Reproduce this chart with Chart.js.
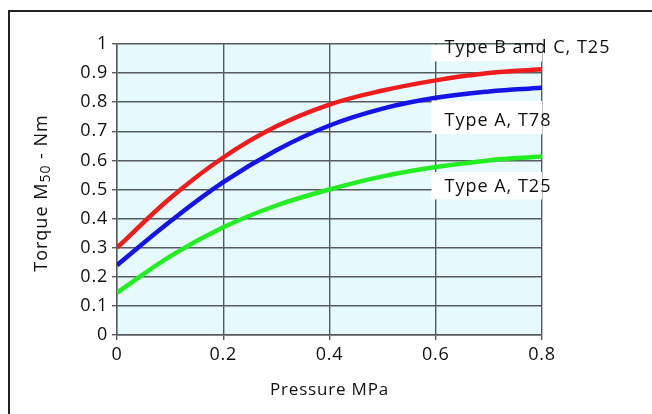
<!DOCTYPE html>
<html>
<head>
<meta charset="utf-8">
<script src="https://cdn.jsdelivr.net/npm/chart.js@4"></script>
<style>
  html, body { margin: 0; padding: 0; background: #fff; }
  #wrap { position: relative; width: 652px; height: 414px; overflow: hidden; }
  #frame { position: absolute; left: 8px; top: 10px; width: 700px; height: 500px;
           border-left: 2px solid #222; border-top: 2px solid #222; }
  canvas { position: absolute; left: 0; top: 0; }
</style>
</head>
<body>
<div id="wrap">
  <div id="frame"></div>
  <canvas id="torqueChart" width="652" height="414"></canvas>
</div>
<script>
const pressure = [0, 0.1, 0.2, 0.3, 0.4, 0.5, 0.6, 0.7, 0.8];
const typeBC_T25 = [0.30, 0.47, 0.61, 0.717, 0.792, 0.84, 0.875, 0.90, 0.913];
const typeA_T78 = [0.24, 0.39, 0.525, 0.635, 0.72, 0.778, 0.815, 0.837, 0.85];
const typeA_T25 = [0.145, 0.27, 0.37, 0.445, 0.50, 0.545, 0.577, 0.60, 0.613];
const seriesNames = ["Type B and C, T25", "Type A, T78", "Type A, T25"];
const seriesColors = ["#f01c1c", "#1414e6", "#22ee22"];
const xTicks = [0, 0.2, 0.4, 0.6, 0.8];
const yTicks = [0, 0.1, 0.2, 0.3, 0.4, 0.5, 0.6, 0.7, 0.8, 0.9, 1];

const FONT = "'Open Sans'";
const gridColor = "#555a5d";

// light cyan plot area, wider letters like the original typeface
const plotBg = {
  id: "plotBg",
  beforeDraw(chart) {
    const { ctx, chartArea: a } = chart;
    ctx.letterSpacing = "0.8px";
    ctx.save();
    ctx.fillStyle = "#e6f9fd";
    ctx.fillRect(a.left, a.top, a.right - a.left, a.bottom - a.top);
    ctx.restore();
  },
};

// curve names on white boxes, y title with subscript
const annotate = {
  id: "annotate",
  afterDraw(chart) {
    const { ctx, chartArea: a } = chart;
    const xs = chart.scales.x;
    const ys = chart.scales.y;
    const boxes = [
      { top: 0.997, bottom: 0.94, textY: 0.985 },
      { top: 0.805, bottom: 0.69, textY: 0.735 },
      { top: 0.56, bottom: 0.466, textY: 0.51 },
    ];
    ctx.save();
    ctx.letterSpacing = "1px";
    ctx.font = "18px " + FONT;
    ctx.textBaseline = "middle";
    const left = xs.getPixelForValue(0.592);
    boxes.forEach((b, i) => {
      const t = ys.getPixelForValue(b.top);
      const btm = ys.getPixelForValue(b.bottom);
      ctx.fillStyle = "#fff";
      ctx.fillRect(left, t, a.right - left, btm - t);
      ctx.fillStyle = "#111";
      ctx.fillText(seriesNames[i], left + 13, ys.getPixelForValue(b.textY));
    });

    // y axis title
    ctx.translate(42, 193);
    ctx.rotate(-Math.PI / 2);
    const parts = [
      { t: "Torque M", f: "18px " + FONT, dy: 0 },
      { t: "50", f: "14px " + FONT, dy: 4 },
      { t: " - Nm", f: "18px " + FONT, dy: 0 },
    ];
    let w = 0;
    parts.forEach((p) => { ctx.font = p.f; w += ctx.measureText(p.t).width; });
    let x = -w / 2;
    ctx.fillStyle = "#111";
    ctx.textBaseline = "middle";
    parts.forEach((p) => {
      ctx.font = p.f;
      ctx.fillText(p.t, x, p.dy);
      x += ctx.measureText(p.t).width;
    });
    ctx.restore();
  },
};

function makeSet(label, values, color) {
  return {
    label,
    data: pressure.map((p, i) => ({ x: p, y: values[i] })),
    borderColor: color,
    borderWidth: 4.5,
    pointRadius: 0,
    tension: 0.4,
    fill: false,
  };
}

new Chart(document.getElementById("torqueChart"), {
  type: "line",
  data: {
    datasets: [
      makeSet(seriesNames[0], typeBC_T25, seriesColors[0]),
      makeSet(seriesNames[1], typeA_T78, seriesColors[1]),
      makeSet(seriesNames[2], typeA_T25, seriesColors[2]),
    ],
  },
  options: {
    responsive: false,
    animation: false,
    events: [],
    layout: { padding: { top: 44, right: 110, bottom: 0, left: 0 } },
    plugins: { legend: { display: false }, tooltip: { enabled: false } },
    scales: {
      x: {
        type: "linear",
        min: 0,
        max: 0.8,
        afterBuildTicks: (s) => { s.ticks = xTicks.map((v) => ({ value: v })); },
        afterFit: (s) => { s.height = 79; },
        grid: { color: gridColor, lineWidth: 1.4, tickLength: 5 },
        border: { color: gridColor, width: 1.4 },
        ticks: {
          color: "#111",
          padding: 4,
          maxRotation: 0,
          font: { family: FONT, size: 18 },
          callback: (v) => String(v),
        },
        title: {
          display: true,
          text: "Pressure MPa",
          color: "#111",
          font: { family: FONT, size: 17 },
          padding: { top: 0, bottom: 14 },
        },
      },
      y: {
        min: 0,
        max: 1,
        afterBuildTicks: (s) => { s.ticks = yTicks.map((v) => ({ value: v })); },
        afterFit: (s) => { s.width = 117; },
        grid: { color: gridColor, lineWidth: 1.4, tickLength: 5 },
        border: { color: gridColor, width: 1.4 },
        ticks: {
          color: "#111",
          padding: 4,
          font: { family: FONT, size: 18 },
          callback: (v) => String(v),
        },
      },
    },
  },
  plugins: [plotBg, annotate],
});
</script>
</body>
</html>
